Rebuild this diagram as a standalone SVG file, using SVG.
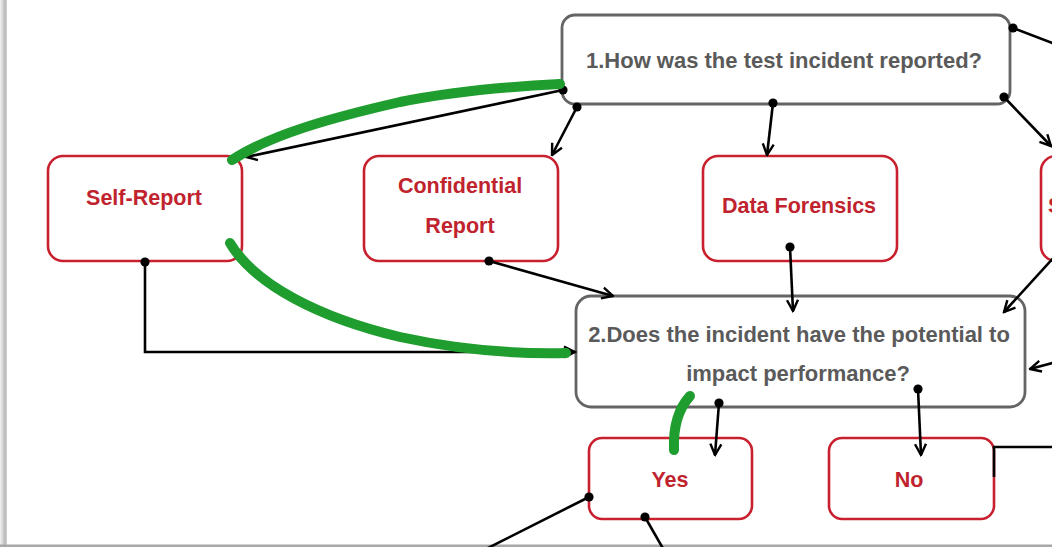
<svg xmlns="http://www.w3.org/2000/svg" width="1052" height="547" viewBox="0 0 1052 547">
  <defs>
    <style>
      .q { fill: #ffffff; stroke: #646464; stroke-width: 2.8; }
      .opt { fill: #ffffff; stroke: #c8202e; stroke-width: 2.6; }
      .qt { font-family: "Liberation Sans", Arial, sans-serif; font-weight: bold; font-size: 22px; fill: #5a5a5a; text-anchor: middle; }
      .ot { font-family: "Liberation Sans", Arial, sans-serif; font-weight: bold; font-size: 21.5px; fill: #c0232d; text-anchor: middle; }
      .c { fill: none; stroke: #000000; stroke-width: 2.6; }
      .ink { fill: none; stroke: #1f9d2f; stroke-width: 10; stroke-linecap: round; stroke-linejoin: round; }
    </style>
    <marker id="arrow" viewBox="0 0 14 14" refX="12.5" refY="7" markerWidth="14" markerHeight="14" markerUnits="userSpaceOnUse" orient="auto">
      <path d="M1.5,1.5 L12.5,7 L1.5,12.5" fill="none" stroke="#000" stroke-width="2.4" stroke-linejoin="miter"/>
    </marker>
    <marker id="dot" viewBox="0 0 10 10" refX="5" refY="5" markerWidth="10" markerHeight="10" markerUnits="userSpaceOnUse">
      <circle cx="5" cy="5" r="4.6" fill="#000"/>
    </marker>
    <linearGradient id="edge" x1="0" y1="0" x2="1" y2="0">
      <stop offset="0" stop-color="#f2f2f2"/>
      <stop offset="0.75" stop-color="#b8b8b8"/>
      <stop offset="1" stop-color="#d6d6d6"/>
    </linearGradient>
  </defs>

  <!-- page -->
  <rect x="0" y="0" width="1052" height="547" fill="#ffffff"/>
  <rect x="0" y="0" width="7" height="547" fill="url(#edge)"/>
  <rect x="0" y="544.5" width="1052" height="2.5" fill="#a8a8a8"/>

  <!-- nodes -->
  <g id="q1">
    <rect class="q" x="562" y="15" width="448" height="89" rx="13"/>
    <text class="qt" x="784" y="68">1.How was the test incident reported?</text>
  </g>
  <g id="self-report">
    <rect class="opt" x="48" y="156" width="194" height="105" rx="15"/>
    <text class="ot" x="144" y="205">Self-Report</text>
  </g>
  <g id="confidential-report">
    <rect class="opt" x="364" y="156" width="194" height="105" rx="15"/>
    <text class="ot" x="460" y="193">Confidential</text>
    <text class="ot" x="460" y="233">Report</text>
  </g>
  <g id="data-forensics">
    <rect class="opt" x="703" y="156" width="194" height="105" rx="15"/>
    <text class="ot" x="799" y="213">Data Forensics</text>
  </g>
  <g id="s-report">
    <rect class="opt" x="1041" y="156" width="194" height="105" rx="15"/>
    <text class="ot" x="1048" y="213" style="text-anchor:start">S</text>
  </g>
  <g id="q2">
    <rect class="q" x="576" y="296" width="449" height="111" rx="15"/>
    <text class="qt" x="799" y="342">2.Does the incident have the potential to</text>
    <text class="qt" x="798" y="381">impact performance?</text>
  </g>
  <g id="yes">
    <rect class="opt" x="589" y="438" width="163" height="81" rx="13"/>
    <text class="ot" x="670" y="487">Yes</text>
  </g>
  <g id="no">
    <rect class="opt" x="829" y="438" width="165" height="81" rx="13"/>
    <text class="ot" x="909" y="487">No</text>
  </g>

  <!-- connectors -->
  <g id="connectors">
    <line class="c" x1="563" y1="90" x2="246" y2="157" marker-start="url(#dot)" marker-end="url(#arrow)"/>
    <line class="c" x1="577" y1="107" x2="552" y2="155" marker-start="url(#dot)" marker-end="url(#arrow)"/>
    <line class="c" x1="773" y1="103" x2="767" y2="155" marker-start="url(#dot)" marker-end="url(#arrow)"/>
    <line class="c" x1="1004" y1="97" x2="1051" y2="146" marker-start="url(#dot)" marker-end="url(#arrow)"/>
    <line class="c" x1="1013" y1="28" x2="1060" y2="46" marker-start="url(#dot)"/>
    <polyline class="c" points="145,262 145,352 575,352" marker-start="url(#dot)" marker-end="url(#arrow)"/>
    <line class="c" x1="489" y1="261" x2="613" y2="296" marker-start="url(#dot)" marker-end="url(#arrow)"/>
    <line class="c" x1="790" y1="247" x2="793" y2="311" marker-start="url(#dot)" marker-end="url(#arrow)"/>
    <line class="c" x1="1056" y1="255" x2="1004" y2="312" marker-end="url(#arrow)"/>
    <line class="c" x1="1060" y1="361" x2="1030" y2="369" marker-end="url(#arrow)"/>
    <line class="c" x1="719" y1="403" x2="715" y2="455" marker-start="url(#dot)" marker-end="url(#arrow)"/>
    <line class="c" x1="918" y1="389" x2="921" y2="455" marker-start="url(#dot)" marker-end="url(#arrow)"/>
    <polyline class="c" points="994,477 994,447 1060,447"/>
    <line class="c" x1="589" y1="497" x2="484" y2="550" marker-start="url(#dot)"/>
    <line class="c" x1="645" y1="517" x2="665" y2="552" marker-start="url(#dot)"/>
  </g>

  <!-- green highlight strokes -->
  <g id="highlights">
    <path class="ink" d="M232,160 C270,135 330,118 400,102 C460,90 520,86 560,84"/>
    <path class="ink" d="M230,243 C255,285 320,318 400,337 C460,350 520,354 566,353"/>
    <path class="ink" d="M690,396 C679,408 673,425 674,450"/>
  </g>
</svg>
